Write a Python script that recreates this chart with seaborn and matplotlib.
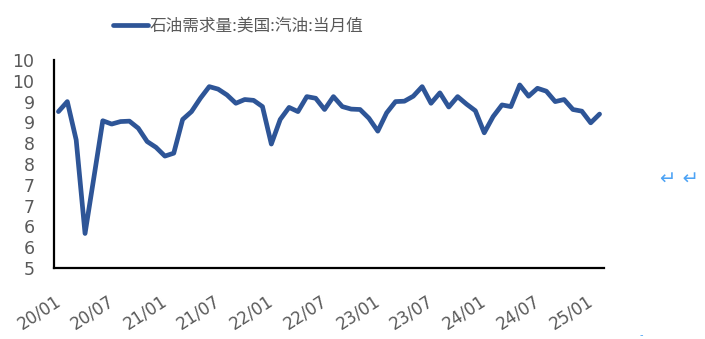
import numpy as np
import pandas as pd
import matplotlib
matplotlib.use("Agg")
import matplotlib.pyplot as plt
import matplotlib.ticker as mticker
import seaborn as sns

# ---- data ----
series_name = "石油需求量:美国:汽油:当月值"
months = [f"{y % 100:02d}/{m:02d}" for y in range(2020, 2026) for m in range(1, 13)][:62]
values = [8.76, 9.00, 8.08, 5.83, 7.18, 8.54, 8.46, 8.52, 8.53, 8.36, 8.04, 7.90,
          7.69, 7.76, 8.57, 8.76, 9.08, 9.36, 9.30, 9.16, 8.96, 9.05, 9.03, 8.88,
          7.98, 8.57, 8.86, 8.76, 9.12, 9.08, 8.81, 9.12, 8.88, 8.82, 8.81, 8.60,
          8.29, 8.73, 9.00, 9.01, 9.13, 9.36, 8.96, 9.21, 8.87, 9.12, 8.94, 8.78,
          8.25, 8.64, 8.92, 8.88, 9.40, 9.13, 9.32, 9.25, 9.00, 9.05, 8.81, 8.77,
          8.49, 8.70]
tick_labels = ["20/01", "20/07", "21/01", "21/07", "22/01", "22/07",
               "23/01", "23/07", "24/01", "24/07", "25/01"]
y_ticks = [5.0, 5.5, 6.0, 6.5, 7.0, 7.5, 8.0, 8.5, 9.0, 9.5, 10.0]

df = pd.DataFrame({"month": months, "value": values})
df["pos"] = np.arange(len(df)) + 0.5

sns.set_theme(style="white")
plt.rcParams["font.family"] = ["DejaVu Sans", "Noto Sans CJK SC"]

W, H = 705, 339
fig = plt.figure(figsize=(W / 100, H / 100), dpi=100)
ax = fig.add_axes([54 / W, 1 - 268 / H, 550 / W, 208 / H])

line_color = "#2E5597"
gray = "#595959"

sns.lineplot(data=df, x="pos", y="value", ax=ax, color=line_color, linewidth=3.4,
             label=series_name, legend=False)

ax.set_xlim(0, len(df))
ax.set_ylim(5, 10)
ax.set_xlabel("")
ax.set_ylabel("")

ax.yaxis.set_major_locator(mticker.FixedLocator(y_ticks))
ax.yaxis.set_major_formatter(mticker.FuncFormatter(lambda v, p: f"{int(np.floor(v + 0.5))}"))
tick_pos = [months.index(t) for t in tick_labels]
ax.set_xticks(tick_pos)
ax.set_xticklabels(tick_labels, rotation=33, ha="right", va="top",
                   rotation_mode="anchor", color=gray, fontsize=12)
for lbl in ax.get_xticklabels():
    lbl.set_transform(lbl.get_transform() + matplotlib.transforms.ScaledTranslation(9 / 100, 0, fig.dpi_scale_trans))

ax.tick_params(axis="y", direction="in", length=6, width=1.5, colors="black",
               labelcolor=gray, labelsize=12.5, pad=14)
ax.tick_params(axis="x", direction="in", length=5, width=1.5, colors="black",
               labelcolor=gray, pad=17)
for s in ["top", "right"]:
    ax.spines[s].set_visible(False)
for s in ["left", "bottom"]:
    ax.spines[s].set_color("black")
    ax.spines[s].set_linewidth(1.6)

handles, labels = ax.get_legend_handles_labels()
leg = fig.legend(handles, labels, loc="center", bbox_to_anchor=(238 / W, 1 - 26 / H),
                 frameon=False, handlelength=2.1, handletextpad=0.1,
                 prop={"family": ["Noto Sans CJK SC", "DejaVu Sans"], "size": 12})
for t in leg.get_texts():
    t.set_color(gray)

fig.text(660 / W, 1 - 178 / H, "↵ ↵", color="#4DA3F5", fontsize=14, va="center", ha="left")
fig.text(641 / W, 1 - 335 / H, "-", color="#4DA3F5", fontsize=7, va="center", ha="center")

fig.savefig("out.png", dpi=100)
